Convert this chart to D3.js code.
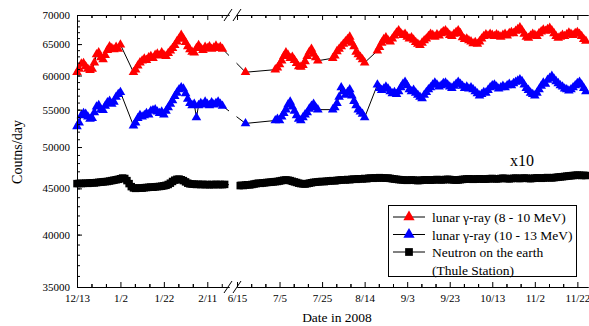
<!DOCTYPE html>
<html>
<head>
<meta charset="UTF-8">
<script src="https://cdn.jsdelivr.net/npm/d3@7"></script>
<style>
  body { margin: 0; background: #fff; }
</style>
</head>
<body>
<svg id="chart" width="589" height="326"></svg>
<script>
// run start dates (each run = consecutive daily values)
const runStarts = ["2007-12-13", "2008-01-08", "2008-06-19", "2008-07-03", "2008-07-30", "2008-08-20"];

// lunar gamma-ray 8-10 MeV
const red1 = [60500, 61000, 61800, 61900, 61400, 61000, 60800, 61000, 62000, 63300, 63600, 62800, 62500, 63200, 64000, 64600, 64300, 64100, 64500, 64200, 64900];
const red2 = [60500, 60900, 61500, 62000, 62300, 62600, 62400, 62800, 63000, 62700, 63200, 63400, 63100, 63600, 63200, 63000, 63500, 63900, 64300, 64800,
  65400, 65900, 66500, 65900, 65300, 64600, 64100, 63700, 63600, 64300, 64800, 64300, 64000, 64500, 64300, 64600, 64200, 64400, 64700, 64300, 64500, 64200];
const red3 = [60500];
const red4 = [60900, 61200, 61700, 62300, 63000, 63600, 63200, 62700, 62900, 62400, 61900, 61400, 61300, 61600, 62200, 63000, 63700, 64200, 63400, 62800, 62300];
const red5 = [62700, 63100, 63800, 64200, 64600, 65000, 65400, 65800, 66200, 65200, 64600, 63700, 63300, 62900, 62500, 62000];
const red6 = [63900, 64500, 65200, 65800, 66100, 65600, 65400, 65900, 66400, 66900,
  67300, 66800, 66500, 66700, 66200, 65900, 66100, 65700, 65300, 65000,
  64800, 65200, 65600, 65900, 66300, 66700, 66500, 66200, 66600, 66400,
  66800, 67100, 67300, 66900, 66500, 66300, 66700, 67000, 67300, 66800,
  66100, 65800, 65900, 65600, 65400, 65100, 65300, 65000, 65400, 65900,
  66300, 66600, 66400, 66700, 66500, 66300, 66600, 66400, 66200, 66500,
  66700, 66400, 66800, 67000, 66800, 67200, 67500, 67800, 67300, 66700,
  66200, 66000, 66400, 66700, 66500, 66300, 66800, 67100, 67400, 67200,
  67500, 67700, 67300, 66800, 66300, 66000, 66200, 66500, 66300, 66600,
  66900, 66700, 66500, 66800, 67000, 66700, 66300, 65800, 65500];

// lunar gamma-ray 10-13 MeV
const blue1 = [52700, 53200, 54200, 54500, 54400, 54000, 53700, 53800, 54600, 55400, 55600, 55000, 54900, 55500, 56000, 56200, 55800, 56100, 56800, 57200, 57500];
const blue2 = [52800, 53200, 53800, 54200, 54000, 54200, 54500, 54300, 54800, 54900, 55000, 54700, 54500, 54700, 54300, 54800, 55300, 55800, 56300, 56900,
  57400, 57900, 58200, 58000, 57300, 56500, 55900, 55600, 55800, 53900, 55600, 55900, 55700, 56100, 55800, 55600, 56000, 55700, 55900, 56100, 55800, 55500];
const blue3 = [53100];
const blue4 = [53500, 53700, 53500, 54000, 54500, 55000, 55700, 56100, 55400, 54800, 54200, 53700, 53500, 53900, 54300, 54600, 55100, 55500, 55800, 55300, 55000];
const blue5 = [55000, 55300, 55900, 56800, 58200, 57600, 57100, 57500, 57900, 57000, 56200, 55600, 55000, 54700, 54400, 53900];
const blue6 = [58600, 58100, 57800, 58000, 58300, 58000, 57600, 57300, 57500, 57200,
  57600, 58200, 58700, 59000, 58500, 57900, 57600, 57800, 57400, 57100,
  56800, 56600, 57100, 57500, 57900, 58200, 58600, 58900, 58600, 58300,
  58500, 58800, 58900, 58600, 58300, 58100, 58400, 58700, 59000, 58700,
  58400, 58100, 58300, 58000, 58200, 57900, 57600, 57300, 57000, 57200,
  57500, 57400, 57800, 58200, 58500, 58600, 58300, 58000, 58200, 58400,
  58200, 58500, 58700, 58500, 58800, 59000, 59200, 59400, 59100, 58600,
  58100, 57800, 57400, 57200, 57000, 57400, 57900, 58400, 58900, 58700,
  59300, 59600, 59900, 59500, 59100, 58800, 58500, 58300, 58000, 57900,
  57700, 57900, 58200, 58500, 58800, 59000, 58600, 58100, 57600];

// neutron monitor, Thule (plotted x10)
const neutronScale = 10;
const neutronStarts = ["2007-12-13", "2008-06-16"];
const neutron1 = [4555, 4557, 4556, 4558, 4560, 4558, 4562, 4565, 4563, 4567,
  4570, 4572, 4575, 4578, 4580, 4585, 4590, 4595, 4600, 4605,
  4612, 4620, 4615, 4590, 4555, 4520, 4505, 4500, 4502, 4505,
  4503, 4508, 4510, 4512, 4515, 4513, 4518, 4520, 4522, 4525,
  4530, 4535, 4545, 4560, 4580, 4595, 4605, 4608, 4600, 4590,
  4575, 4560, 4552, 4550, 4548, 4545, 4547, 4544, 4546, 4543,
  4545, 4542, 4545, 4543, 4546, 4544, 4545, 4543, 4546];
const neutron2 = [4532, 4535, 4533, 4538, 4542, 4540, 4545, 4550, 4555,
  4560, 4558, 4562, 4565, 4568, 4570, 4572, 4575, 4578, 4580,
  4585, 4590, 4595, 4598, 4595, 4590, 4582, 4575, 4568, 4560,
  4555, 4552, 4550, 4555, 4560, 4565, 4570, 4572, 4575, 4578,
  4580, 4578, 4582, 4585, 4588, 4590, 4587, 4592, 4595, 4598,
  4600, 4598, 4603, 4600, 4605, 4608, 4605, 4610, 4612, 4610,
  4615, 4612, 4618, 4620, 4617, 4622, 4620, 4625, 4622, 4620,
  4618, 4620, 4616, 4612, 4608, 4605, 4602, 4600, 4598, 4595,
  4593, 4595, 4598, 4596, 4593, 4590, 4592, 4595, 4598, 4600,
  4597, 4595, 4598, 4600, 4603, 4601, 4598, 4600, 4603, 4605,
  4603, 4600, 4598, 4596, 4598, 4601, 4604, 4606, 4609, 4611,
  4608, 4605, 4607, 4610, 4612, 4609, 4606, 4608, 4611, 4613,
  4615, 4612, 4610, 4612, 4615, 4618, 4616, 4613, 4611, 4614,
  4617, 4619, 4616, 4614, 4617, 4620, 4618, 4615, 4613, 4616,
  4619, 4622, 4620, 4617, 4620, 4623, 4626, 4624, 4622, 4625,
  4628, 4631, 4634, 4636, 4639, 4642, 4645, 4648, 4650, 4652,
  4655, 4653, 4650, 4652, 4650];

const xTickLabels = ["12/13", "1/2", "1/22", "2/11", "6/15", "7/5", "7/25", "8/14", "9/3", "9/23", "10/13", "11/2", "11/22"];
const yTicks = [35000, 40000, 45000, 50000, 55000, 60000, 65000, 70000];

const parse = d3.timeParse("%Y-%m-%d");
function daily(start, values, k = 1) {
  const s = parse(start);
  return values.map((v, i) => ({ date: d3.timeDay.offset(s, i), v: v * k }));
}
const redData = [red1, red2, red3, red4, red5, red6].flatMap((a, i) => daily(runStarts[i], a));
const blueData = [blue1, blue2, blue3, blue4, blue5, blue6].flatMap((a, i) => daily(runStarts[i], a));
const neutronData = [neutron1, neutron2].flatMap((a, i) => daily(neutronStarts[i], a, neutronScale));

const svg = d3.select("#chart");
const serif = "'Liberation Serif', 'Times New Roman', Times, serif";
const plotTop = 15, plotBottom = 287, plotLeft = 77, plotRight = 588;
const breakDate = new Date(2008, 3, 1);

const xLeft = d3.scaleTime().domain([new Date(2007, 11, 13), new Date(2008, 1, 21)]).range([plotLeft, 229]);
const xRight = d3.scaleTime().domain([new Date(2008, 5, 15), new Date(2008, 10, 27)]).range([237, plotRight]);
const X = d => d < breakDate ? xLeft(d) : xRight(d);
const y = d3.scaleLog().domain([35000, 70000]).range([plotBottom, plotTop]);

// tick dates from labels
const tickDates = xTickLabels.map(s => {
  const [m, d] = s.split("/").map(Number);
  return new Date(m === 12 ? 2007 : 2008, m - 1, d);
});
const leftTicks = tickDates.filter(d => d < breakDate);
const rightTicks = tickDates.filter(d => d >= breakDate);
function minors(ticks, scale) {
  const out = [];
  const [d0, d1] = scale.domain();
  ticks.forEach(t => {
    for (let k = -2; k <= 2; k++) {
      if (k === 0) continue;
      const m = new Date(+t + k * 20 / 3 * 864e5);
      if (m >= d0 && m <= d1) out.push(m);
    }
  });
  return out;
}
const fmt = d => (d.getMonth() + 1) + "/" + d.getDate();

// series
const line = d3.line().x(d => X(d.date)).y(d => y(d.v));
const tri = d3.symbol(d3.symbolTriangle, 40)();
const sq = d3.symbol(d3.symbolSquare, 56)();

function series(data, color, shape) {
  const g = svg.append("g");
  g.append("path").datum(data).attr("d", line).attr("fill", "none").attr("stroke", "#000").attr("stroke-width", 1);
  g.selectAll("path.m").data(data).join("path").attr("class", "m")
    .attr("d", shape).attr("fill", color)
    .attr("transform", d => `translate(${X(d.date)},${y(d.v)})`);
}
series(neutronData, "#000", sq);
series(blueData, "#0000ff", tri);
series(redData, "#ff0000", tri);

// axis break gap
svg.append("rect").attr("x", 229).attr("y", 5).attr("width", 7.5).attr("height", 288).attr("fill", "#fff");

function xAxes(scale, ticks) {
  const mn = minors(ticks, scale);
  svg.append("g").attr("transform", `translate(0,${plotBottom})`)
    .call(d3.axisBottom(scale).tickValues(mn).tickSize(-3).tickSizeOuter(0).tickFormat(""));
  svg.append("g").attr("transform", `translate(0,${plotBottom})`)
    .call(d3.axisBottom(scale).tickValues(ticks).tickSize(-5).tickSizeOuter(0).tickPadding(7).tickFormat(fmt));
  svg.append("g").attr("transform", `translate(0,${plotTop})`)
    .call(d3.axisTop(scale).tickValues(mn).tickSize(-3).tickSizeOuter(0).tickFormat(""));
  svg.append("g").attr("transform", `translate(0,${plotTop})`)
    .call(d3.axisTop(scale).tickValues(ticks).tickSize(-5).tickSizeOuter(0).tickFormat(""));
}
xAxes(xLeft, leftTicks);
xAxes(xRight, rightTicks);

svg.append("g").attr("transform", `translate(${plotLeft},0)`)
  .call(d3.axisLeft(y).tickValues(d3.range(35000, 70001, 1000)).tickSize(-3).tickSizeOuter(0).tickFormat(""));
svg.append("g").attr("transform", `translate(${plotLeft},0)`)
  .call(d3.axisLeft(y).tickValues(yTicks).tickSize(-5).tickSizeOuter(0).tickPadding(7).tickFormat(d3.format("d")));

svg.selectAll(".tick text").attr("font-size", 11);
svg.selectAll(".domain, .tick line").attr("stroke", "#000");

[228, 237].forEach(cx => {
  [plotTop, plotBottom].forEach(cy => {
    svg.append("line").attr("x1", cx - 4).attr("y1", cy + 6).attr("x2", cx + 4).attr("y2", cy - 6)
      .attr("stroke", "#000").attr("stroke-width", 1);
  });
});

// labels
svg.append("text").attr("transform", "translate(22,152) rotate(-90)").attr("text-anchor", "middle")
  .attr("font-size", 14).text("Coutns/day");
svg.append("text").attr("x", 337).attr("y", 322).attr("text-anchor", "middle")
  .attr("font-size", 13.5).text("Date in 2008");
svg.append("text").attr("x", 510).attr("y", 166).attr("font-size", 16).text("x10");

// legend
const legendItems = [
  { label: "lunar γ-ray (8 - 10 MeV)", color: "#ff0000", shape: "tri" },
  { label: "lunar γ-ray (10 - 13 MeV)", color: "#0000ff", shape: "tri" },
  { label: "Neutron on the earth", color: "#000", shape: "sq" }
];
const lg = svg.append("g");
lg.append("rect").attr("x", 388.5).attr("y", 205.5).attr("width", 188).attr("height", 71)
  .attr("fill", "#fff").attr("stroke", "#000");
legendItems.forEach((it, i) => {
  const ry = 217 + i * 17.5;
  lg.append("line").attr("x1", 393).attr("x2", 425).attr("y1", ry).attr("y2", ry).attr("stroke", "#000");
  lg.append("path").attr("d", it.shape === "tri" ? d3.symbol(d3.symbolTriangle, 55)() : d3.symbol(d3.symbolSquare, 60)())
    .attr("fill", it.color).attr("transform", `translate(409,${ry})`);
  lg.append("text").attr("x", 432).attr("y", ry + 5).attr("font-size", 13.5).text(it.label);
});
lg.append("text").attr("x", 432).attr("y", 217 + 3 * 17.5 + 5).attr("font-size", 13.5).text("(Thule Station)");

svg.selectAll("text").style("font-family", serif).attr("fill", "#000");
</script>
</body>
</html>
